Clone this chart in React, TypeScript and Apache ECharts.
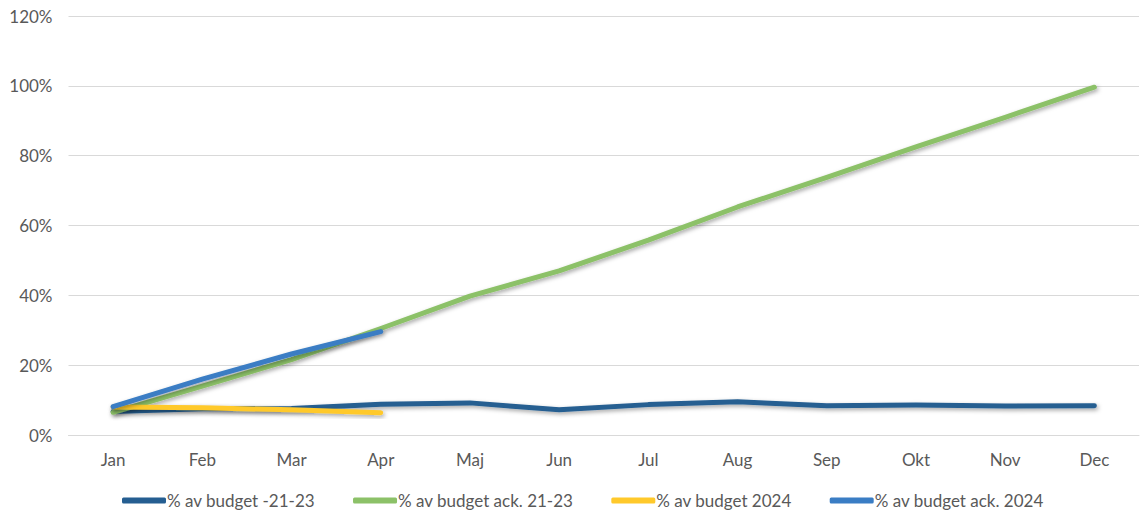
import React, { useEffect, useRef } from "react";
import * as echarts from "echarts";

const months = ["Jan", "Feb", "Mar", "Apr", "Maj", "Jun", "Jul", "Aug", "Sep", "Okt", "Nov", "Dec"];
const budget2123 = [6.7, 7.5, 7.6, 8.8, 9.2, 7.2, 8.7, 9.5, 8.4, 8.6, 8.3, 8.4];
const budgetAck2123 = [6.5, 14.0, 21.6, 30.5, 39.8, 47.0, 55.8, 65.3, 73.8, 82.5, 91.0, 99.6];
const budget2024 = [8.0, 7.8, 7.2, 6.4];
const budgetAck2024 = [8.1, 16.0, 23.2, 29.6];
const yTicks = [0, 20, 40, 60, 80, 100, 120];

const FONT = "Lato, sans-serif";

export default function App() {
  const ref = useRef<HTMLDivElement>(null);
  useEffect(() => {
    document.body.style.margin = "0";
    const chart = echarts.init(ref.current!, undefined, { renderer: "svg" });
    const shadow = {
      shadowBlur: 4,
      shadowColor: "rgba(0,0,0,0.35)",
      shadowOffsetX: 1.5,
      shadowOffsetY: 2,
    };
    const mk = (name: string, data: number[], color: string) => ({
      name,
      type: "line",
      data,
      symbol: "none",
      smooth: false,
      lineStyle: { color, width: 5, cap: "round", join: "round", ...shadow },
      itemStyle: { color },
    });
    chart.setOption({
      animation: false,
      textStyle: { fontFamily: FONT },
      grid: { left: 68.5, right: 2, top: 16, bottom: 78 },
      xAxis: {
        type: "category",
        data: months,
        boundaryGap: true,
        axisLine: { show: true, lineStyle: { color: "#D9D9D9", width: 1 } },
        axisTick: { show: false },
        axisLabel: { color: "#595959", fontSize: 17, margin: 16, fontFamily: FONT },
      },
      yAxis: {
        type: "value",
        min: yTicks[0],
        max: yTicks[yTicks.length - 1],
        interval: 20,
        axisLine: { show: false },
        axisTick: { show: false },
        splitLine: { lineStyle: { color: "#D9D9D9", width: 1 } },
        axisLabel: {
          color: "#595959",
          fontSize: 17,
          margin: 16,
          fontFamily: FONT,
          formatter: (v: number) => `${v}%`,
        },
      },
      legend: {
        top: 487,
        left: 117,
        itemWidth: 44,
        itemHeight: 6,
        itemGap: 38,
        icon: "roundRect",
        textStyle: { color: "#595959", fontSize: 17, fontFamily: FONT, padding: [0, 0, 0, -4] },
        data: [
          "% av budget -21-23",
          "% av budget ack. 21-23",
          "% av budget 2024",
          "% av budget ack. 2024",
        ],
      },
      series: [
        mk("% av budget -21-23", budget2123, "#255E91"),
        mk("% av budget ack. 21-23", budgetAck2123, "#8CC168"),
        mk("% av budget 2024", budget2024, "#FFC92B"),
        mk("% av budget ack. 2024", budgetAck2024, "#3A7DC4"),
      ],
    });
    return () => chart.dispose();
  }, []);
  return <div ref={ref} style={{ width: 1141, height: 513 }} />;
}
